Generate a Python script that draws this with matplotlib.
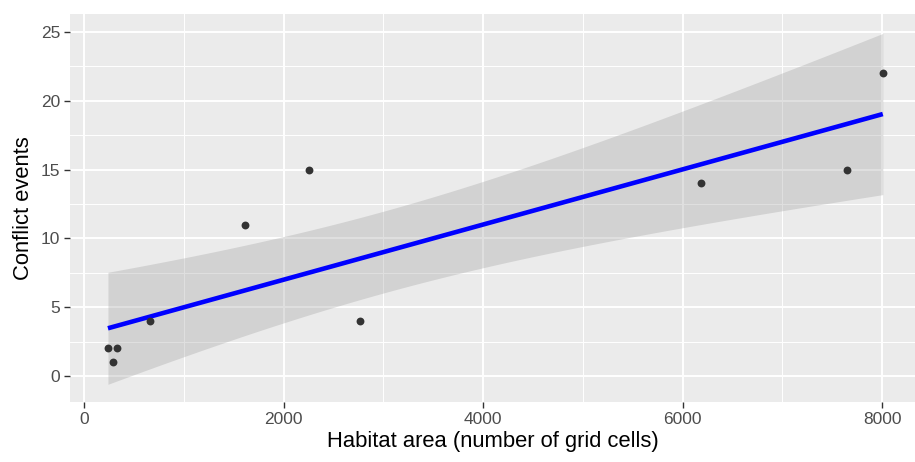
import numpy as np
import matplotlib
matplotlib.use("Agg")
import matplotlib.pyplot as plt

habitat_area = [240, 293, 333, 661, 1612, 2255, 2763, 6183, 7651, 8008]
conflict_events = [2, 1, 2, 4, 11, 15, 4, 14, 15, 22]
x_ticks = [0, 2000, 4000, 6000, 8000]
y_ticks = [0, 5, 10, 15, 20, 25]
T_CRIT = 2.306  # t(0.975, df=8)

x = np.array(habitat_area, float)
y = np.array(conflict_events, float)
n = len(x)
slope, intercept = np.polyfit(x, y, 1)
resid = y - (intercept + slope * x)
s = np.sqrt(np.sum(resid ** 2) / (n - 2))
xs = np.linspace(x.min(), x.max(), 80)
fit = intercept + slope * xs
se = s * np.sqrt(1 / n + (xs - x.mean()) ** 2 / np.sum((x - x.mean()) ** 2))
lo, hi = fit - T_CRIT * se, fit + T_CRIT * se

plt.rcParams['font.family'] = ['Liberation Sans', 'DejaVu Sans']
W, H = 915, 462
fig = plt.figure(figsize=(W / 100, H / 100), dpi=100)
ax = fig.add_axes([70 / W, 1 - 402 / H, (W - 70) / W, (402 - 14) / H])
ax.set_facecolor('#EBEBEB')

ax.set_xlim((70 - 84) / 0.09975, (W - 84) / 0.09975)
ax.set_ylim(-(402 - 376) / 13.76, (376 - 14) / 13.76)

ax.set_xticks(x_ticks)
ax.set_xticks([1000, 3000, 5000, 7000], minor=True)
ax.set_yticks(y_ticks)
ax.set_yticks([2.5, 7.5, 12.5, 17.5, 22.5], minor=True)
ax.grid(which='major', color='white', linewidth=1.4)
ax.grid(which='minor', color='white', linewidth=0.7)
ax.set_axisbelow(True)
for sp in ax.spines.values():
    sp.set_visible(False)
ax.tick_params(which='major', length=4, width=1, color='#333333',
               labelcolor='#4D4D4D', labelsize=12.5, pad=3)
ax.tick_params(which='minor', length=0)

ax.fill_between(xs, lo, hi, color='#999999', alpha=0.3, linewidth=0, zorder=2)
ax.plot(xs, fit, color='#0000FF', linewidth=3.3, zorder=3, solid_capstyle='butt')
ax.scatter(x, y, s=32, color='#333333', zorder=4, linewidths=0)

ax.set_xlabel('Habitat area (number of grid cells)', fontsize=15.8, color='black', labelpad=3)
ax.set_ylabel('Conflict events', fontsize=15.8, color='black', labelpad=5)

fig.savefig('out.png', dpi=100)
